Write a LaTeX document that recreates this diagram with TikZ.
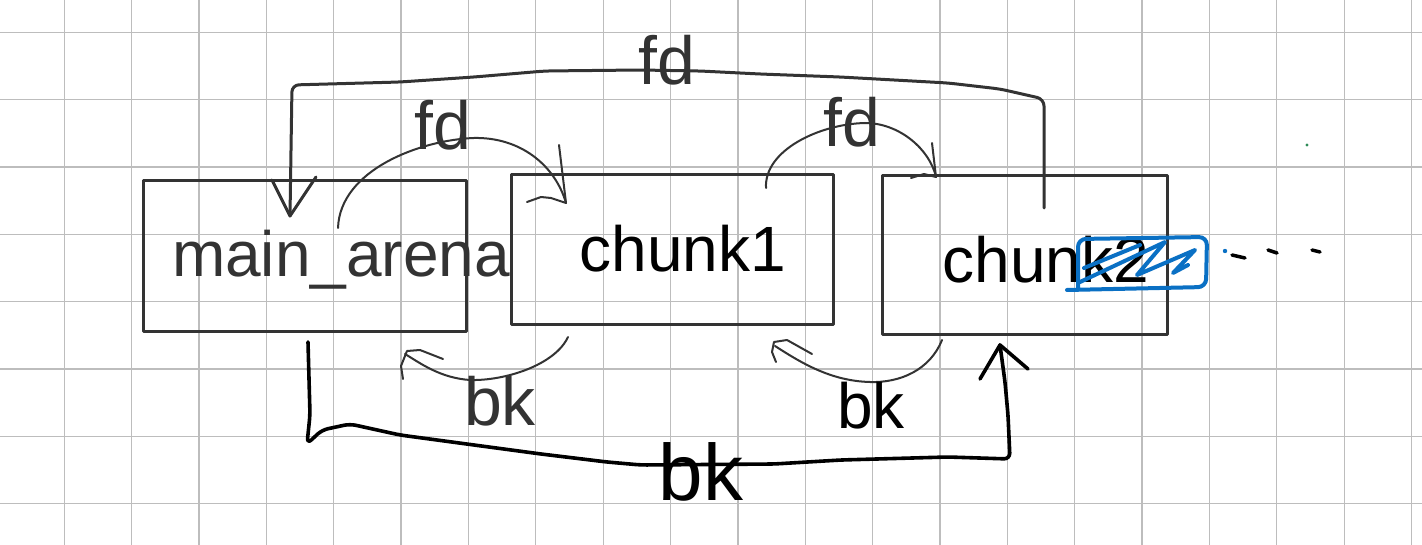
\documentclass[tikz,border=0pt]{standalone}
\usepackage{fontspec}
\setmainfont{Liberation Sans}
\definecolor{ink}{HTML}{333333}
\definecolor{gridc}{HTML}{BDBDBD}
\definecolor{pen}{HTML}{0A70C4}
\definecolor{dotg}{HTML}{2E8B57}
\begin{document}
\begin{tikzpicture}[x=1pt,y=-1pt,line cap=round,line join=round,
  gridline/.style={draw=gridc,line width=1.3pt},
  box/.style={draw=ink,line width=3pt,rectangle,inner sep=0pt},
  penthin/.style={draw=ink,line width=2pt},
  penmid/.style={draw=ink,line width=3pt},
  penbold/.style={draw=black,line width=3.6pt},
  word/.style={inner sep=0pt,anchor=base,font=\fontsize{64}{64}\selectfont},
  bigword/.style={inner sep=0pt,anchor=base,font=\fontsize{80}{80}\selectfont},
  fdword/.style={inner sep=0pt,anchor=base,text=ink,font=\fontsize{68}{68}\selectfont},
  scribble/.style={draw=pen,line width=4pt}]
\fill[white] (0,0) rectangle (1422,545);
\useasboundingbox (0,0) rectangle (1422,545);
% grid paper
\foreach \i in {0,...,20} \draw[gridline] ({64.3+67.36*\i},0) -- ++(0,545);
\foreach \j in {0,...,7} \draw[gridline] (0,{32.3+67.35*\j}) -- ++(1422,0);

% boxes
\node[box,minimum width=323pt,minimum height=151pt] (ma) at (304.5,256.5) {};
\node[box,minimum width=322pt,minimum height=150pt] (c1) at (672,250) {};
\node[box,minimum width=285pt,minimum height=159pt] (c2) at (1024.5,255.5) {};

% box texts
\node[word,text=ink] (t0) at (341,277) {main\_arena};
\node[word] (t1) at (683,272) {chunk1};
\node[word] (t2) at (1046,283) {chunk2};

% connector end points
\coordinate (fdTS) at (1044,208);
\coordinate (fdTE) at (290,216);
\coordinate (fdLS) at (338,228);
\coordinate (fdLE) at (566,203);
\coordinate (fdRS) at (766,188);
\coordinate (fdRE) at (936,177);
\coordinate (bkLS) at (568,337);
\coordinate (bkLE) at (405,354);
\coordinate (bkMS) at (942,340);
\coordinate (bkME) at (775,346);
\coordinate (bkBS) at (308,342);
\coordinate (bkBE) at (1000,345);

% big fd: chunk2 -> main_arena
\draw[penmid,rounded corners=7pt] (fdTS) -- (1044,99) -- (1000,89) -- (948,83) -- (840,77)
  -- (760,74) -- (700,71) -- (640,70) -- (545,71) -- (474,77) -- (400,82) -- (292,85) -- (fdTE);
\draw[penmid] (fdTE) ++(-18,-36) -- (fdTE) -- ++(26,-39);

% fd: main_arena -> chunk1
\draw[penthin] (fdLS) .. controls (340,170) and (420,140) .. (474,138)
  .. controls (520,137) and (555,165) .. (fdLE);
\draw[penthin] (fdLE) ++(-7,-58) -- (fdLE) -- ++(-15,-5) -- ++(-10,-1) -- ++(-14,5);

% fd: chunk1 -> chunk2
\draw[penthin] (fdRS) .. controls (764,150) and (820,124) .. (865,123)
  .. controls (900,123) and (930,150) .. (fdRE);
\draw[penthin] (fdRE) ++(-4,-34) -- (fdRE) -- ++(-12,-3) -- ++(-13,4);

% bk: chunk1 -> main_arena
\draw[penthin] (bkLS) .. controls (555,365) and (505,381) .. (470,380)
  .. controls (440,378) and (420,363) .. (bkLE);
\draw[penthin] (443,359) -- (420,350) -- (407,351) -- (401,366) -- (403,379);

% bk: chunk2 -> chunk1
\draw[penthin] (bkMS) .. controls (930,370) and (900,383) .. (870,382)
  .. controls (830,381) and (800,362) .. (bkME);
\draw[penthin] (812,354) -- (787,340) -- (774,342) -- (772,352) -- (776,362);

% big bk: main_arena -> chunk2
\draw[penbold,rounded corners=6pt] (bkBS) -- (310,415) -- (307,444) -- (322,430) -- (350,424)
  -- (400,435) -- (474,445) -- (541,454) -- (607,462) -- (641,465) -- (774,464)
  -- (841,460) -- (948,457) -- (1010,459) -- (1008,415) -- (1005,382) -- (bkBE);
\draw[penbold] (bkBE) ++(-20,34) -- (bkBE) -- ++(28,24);

% connector labels
\node[fdword] (lfdT) at (667,85) {fd};
\node[fdword] (lfdL) at (443,150) {fd};
\node[fdword] (lfdR) at (852,147) {fd};
\node[fdword] (lbkL) at (500,425) {bk};
\node[word] (lbkM) at (871,428) {bk};
\node[bigword] (lbkB) at (701,500) {bk};

% blue scribble over "k2"
\draw[scribble,rounded corners=8pt] (1067,290) -- (1206,287) -- (1207,237) -- (1078,239) -- (1078,289);
\draw[scribble] (1080,282) -- (1165,242) -- (1137,275) -- (1195,250) -- (1173,273) -- (1188,265);
\draw[scribble] (1084,268) -- (1140,245);

% trailing dots and dashes
\fill[pen] (1225,251) circle (2.2pt);
\draw[draw=black,line width=3.5pt] (1232,255) -- (1245,258);
\draw[draw=black,line width=3.5pt] (1268,250) -- (1277,253);
\draw[draw=black,line width=3.5pt] (1312,250) -- (1320,252);
\fill[dotg] (1307,145) circle (1.6pt);
\end{tikzpicture}
\end{document}
